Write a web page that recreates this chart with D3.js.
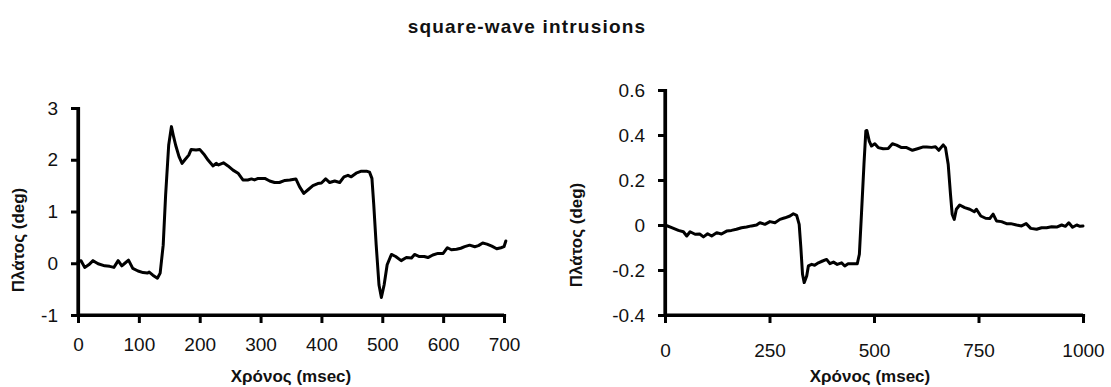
<!DOCTYPE html>
<html>
<head>
<meta charset="utf-8">
<script src="https://cdn.jsdelivr.net/npm/d3@7"></script>
<style>
  html, body { margin: 0; padding: 0; background: #fff; }
  svg { display: block; }
  text { font-family: "Liberation Sans", Arial, Helvetica, sans-serif; fill: #111; }
</style>
</head>
<body>
<svg id="chart" width="1111" height="387" viewBox="0 0 1111 387"></svg>
<script>
// ---------------- data ----------------
const chartTitle = "square-wave intrusions";
const xTitle = "Χρόνος (msec)";
const yTitle = "Πλάτος (deg)";

// Left panel: time (msec) and amplitude (deg)
const leftTime = [0,5,11,17.6,24.7,33,44,52,59,66,72,77,83,90,98.6,107,114,117,123,130.5,135,140,144,149,153.5,157,160.5,166,171,175,182,186,194,200,208,214,222,227,231,239,246.5,254.7,263,271,279,285,290,296,307,315,323,331,340,348,358,364,371,378,386,394,400,407,413.6,421.8,430,437,443.6,449,457,465.6,474,479,483,486,490,494.6,498.5,503,508,515,522,531,539.6,548,553,561,569,575,583,591.5,600,607,613.5,622,629,635.4,643.6,652,658,665,672,680,688,695,700,703];
const leftAmp = [0.03,0.05,-0.08,-0.03,0.05,-0.01,-0.05,-0.06,-0.08,0.05,-0.05,0.0,0.06,-0.1,-0.15,-0.18,-0.19,-0.17,-0.23,-0.29,-0.19,0.35,1.32,2.28,2.64,2.45,2.28,2.06,1.93,1.99,2.09,2.2,2.19,2.2,2.09,1.99,1.88,1.93,1.9,1.94,1.88,1.8,1.74,1.61,1.61,1.63,1.61,1.64,1.64,1.59,1.56,1.56,1.6,1.61,1.63,1.48,1.35,1.42,1.5,1.54,1.55,1.63,1.56,1.59,1.56,1.67,1.70,1.67,1.74,1.78,1.78,1.76,1.64,1.13,0.35,-0.42,-0.66,-0.42,-0.03,0.17,0.13,0.05,0.11,0.1,0.17,0.13,0.13,0.11,0.16,0.19,0.19,0.30,0.26,0.27,0.29,0.32,0.35,0.32,0.34,0.39,0.37,0.33,0.28,0.30,0.32,0.43];
const leftXTicks = [0,100,200,300,400,500,600,700];
const leftYTicks = [-1,0,1,2,3];

// Right panel
const rightTime = [0,16,32,44,52,60,72,83,92,102,111.6,123.6,135,147.5,159,171,183,195,207,219,227,239,251,263,275,287,299,307,315,321,325,329,333,339,343,351,358,367,377,386.6,394.5,403,412,422.4,430,438,450,460,465,470,476,480.5,483,488.6,494,502,510,522,534,544,554,566,578,592,606,618,626,638,647,655,665.6,671,677.5,683,687,692,697,705,717,729,740,745,755.5,767,777,785,793,805,817,827,841,853,864,875,889,901,913,925,937,949,958,966,975,985,993,1000];
const rightAmp = [0,-0.012,-0.024,-0.03,-0.049,-0.03,-0.041,-0.04,-0.053,-0.039,-0.049,-0.034,-0.04,-0.027,-0.024,-0.019,-0.012,-0.009,-0.004,0,0.01,0.003,0.015,0.01,0.025,0.032,0.04,0.05,0.043,0.003,-0.1,-0.219,-0.256,-0.227,-0.182,-0.175,-0.179,-0.168,-0.16,-0.153,-0.172,-0.165,-0.175,-0.168,-0.182,-0.172,-0.172,-0.172,-0.13,0.048,0.27,0.418,0.42,0.373,0.351,0.361,0.344,0.339,0.34,0.361,0.355,0.344,0.344,0.332,0.34,0.347,0.347,0.345,0.348,0.332,0.356,0.344,0.27,0.136,0.048,0.025,0.07,0.089,0.077,0.07,0.059,0.07,0.04,0.03,0.029,0.048,0.018,0.015,0.006,0.006,0,-0.004,0.006,-0.015,-0.019,-0.012,-0.012,-0.008,-0.009,0,-0.006,0.01,-0.01,0.0,-0.006,-0.004];
const rightXTicks = [0,250,500,750,1000];
const rightYTicks = [-0.4,-0.2,0,0.2,0.4,0.6];
const rightYLabels = ["-0.4","-0.2","0","0.2","0.4","0.6"];

// ---------------- drawing ----------------
const svg = d3.select("#chart");

svg.append("text")
  .attr("x", 527).attr("y", 33)
  .attr("text-anchor","middle")
  .style("font-size","19px").style("font-weight","bold").style("letter-spacing","1.2px")
  .text(chartTitle);

function panel(cfg) {
  const x = d3.scaleLinear().domain(cfg.xDomain).range([cfg.x0, cfg.x1]);
  const y = d3.scaleLinear().domain(cfg.yDomain).range([cfg.y0, cfg.y1]);
  const g = svg.append("g");
  const TICK = 8;
  const [dx0, dx1] = cfg.xDomain, [dy0, dy1] = cfg.yDomain;

  // data line first
  const line = d3.line().x((d,i) => x(cfg.t[i])).y(d => y(d)).curve(d3.curveLinear);
  g.append("path").datum(cfg.v).attr("d", line)
    .attr("fill","none").attr("stroke","#000").attr("stroke-width",3)
    .attr("stroke-linejoin","round").attr("stroke-linecap","round");

  // axes (d3 axis generators), styled after the call
  const xAxis = d3.axisBottom(x).tickValues(cfg.xTicks).tickSize(TICK).tickSizeOuter(0)
    .tickPadding(cfg.xPad).tickFormat(d3.format("d"));
  const yAxis = d3.axisLeft(y).tickValues(cfg.yTicks).tickSize(7).tickSizeOuter(0)
    .tickPadding(13).tickFormat((d,i) => cfg.yLabels[i]);

  const gx = g.append("g").attr("transform", `translate(0,${y(dy0)})`).call(xAxis);
  const gy = g.append("g").attr("transform", `translate(${x(dx0)},0)`).call(yAxis);

  [gx, gy].forEach(a => {
    a.attr("color", "black");
    a.select(".domain").attr("stroke", "black").attr("stroke-width", 3.2)
      .attr("stroke-linecap", "square").attr("opacity", 1);
    a.selectAll(".tick").attr("opacity", 1);
    a.selectAll(".tick line").attr("stroke", "black").attr("stroke-width", 3);
    a.selectAll(".tick text").style("font-size","19px")
      .style("font-family","'Liberation Sans', Arial, sans-serif").style("fill","#111");
  });

  // additional plain svg lines for the axis frame, positioned via the scales
  g.append("line").attr("x1", x(dx0)).attr("y1", y(dy1)).attr("x2", x(dx0)).attr("y2", y(dy0))
    .style("stroke","#000").style("stroke-width","3.2px");
  g.append("line").attr("x1", x(dx0)).attr("y1", y(dy0)).attr("x2", x(dx1)).attr("y2", y(dy0))
    .style("stroke","#000").style("stroke-width","3.2px");

  g.append("text")
    .attr("x", (cfg.x0 + cfg.x1)/2 + cfg.xtDx).attr("y", cfg.xtY)
    .attr("text-anchor","middle")
    .style("font-size","17px").style("font-weight","bold")
    .text(xTitle);

  g.append("text")
    .attr("transform", `translate(${cfg.ytX},${cfg.ytY}) rotate(-90)`)
    .attr("text-anchor","middle")
    .style("font-size","17px").style("font-weight","bold")
    .text(yTitle);
}

panel({
  xDomain:[0,700], yDomain:[-1,3], x0:78, x1:504, y0:315, y1:108,
  xTicks:leftXTicks, yTicks:leftYTicks, yLabels:leftYTicks.map(String),
  t:leftTime, v:leftAmp, xPad:15, xtY:382, xtDx:0, ytX:24, ytY:240
});

panel({
  xDomain:[0,1000], yDomain:[-0.4,0.6], x0:665, x1:1083, y0:315, y1:90,
  xTicks:rightXTicks, yTicks:rightYTicks, yLabels:rightYLabels,
  t:rightTime, v:rightAmp, xPad:21, xtY:382, xtDx:-4, ytX:582, ytY:235
});
</script>
</body>
</html>
